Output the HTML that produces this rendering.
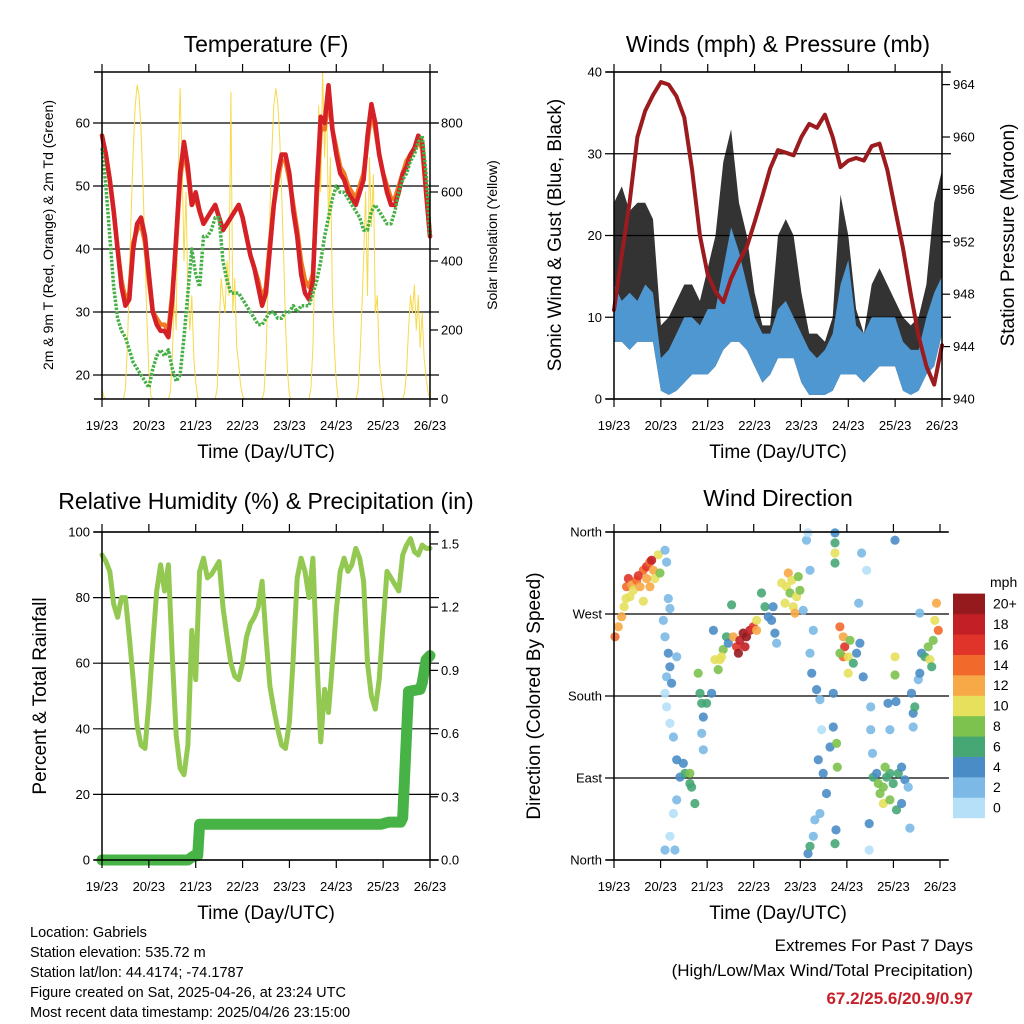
<!DOCTYPE html>
<html><head><meta charset="utf-8"><style>
html,body{margin:0;padding:0;background:#fff;}
svg{display:block;font-family:"Liberation Sans",sans-serif;}
</style></head><body>
<svg id="root" xmlns="http://www.w3.org/2000/svg" width="1024" height="1024" viewBox="0 0 1024 1024">
<rect width="1024" height="1024" fill="#fff"/>
<g font-size="23" text-anchor="middle" fill="#000">
<text x="266" y="52">Temperature (F)</text>
<text x="778" y="52">Winds (mph) &amp; Pressure (mb)</text>
<text x="266" y="509">Relative Humidity (%) &amp; Precipitation (in)</text>
<text x="778" y="506">Wind Direction</text>
</g>
<g font-size="19" text-anchor="middle">
<text x="266" y="458">Time (Day/UTC)</text>
<text x="778" y="458">Time (Day/UTC)</text>
<text x="266" y="919">Time (Day/UTC)</text>
<text x="778" y="919">Time (Day/UTC)</text>
<text transform="translate(561,235) rotate(-90)">Sonic Wind &amp; Gust (Blue, Black)</text>
<text transform="translate(1014,235) rotate(-90)">Station Pressure (Maroon)</text>
<text transform="translate(46,696) rotate(-90)">Percent &amp; Total Rainfall</text>
<text transform="translate(540,696) rotate(-90)">Direction (Colored By Speed)</text>
</g>
<g font-size="14" text-anchor="middle">
<text transform="translate(53,235) rotate(-90)">2m &amp; 9m T (Red, Orange) &amp; 2m Td (Green)</text>
<text transform="translate(497,235) rotate(-90)">Solar Insolation (Yellow)</text>
</g>
<g font-size="14.5">
<text x="30" y="937">Location: Gabriels</text>
<text x="30" y="957">Station elevation: 535.72 m</text>
<text x="30" y="977">Station lat/lon: 44.4174; -74.1787</text>
<text x="30" y="997">Figure created on Sat, 2025-04-26, at 23:24 UTC</text>
<text x="30" y="1017">Most recent data timestamp: 2025/04/26 23:15:00</text>
</g>
<g font-size="17" text-anchor="end">
<text x="973" y="951">Extremes For Past 7 Days</text>
<text x="973" y="976">(High/Low/Max Wind/Total Precipitation)</text>
<text x="973" y="1004" fill="#c8202a" font-weight="bold">67.2/25.6/20.9/0.97</text>
</g>
</svg>
<script>
// ---------- data ----------
const dayLabels = ["19/23","20/23","21/23","22/23","23/23","24/23","25/23","26/23"];
// temperature, 2-hourly from hour 0
const tempRed = [58,55,51,46,40,34,31,32,40,44,45,42,36,30,28,27,27,26,32,42,52,57,53,47,49,46,44,45,46,47,45,43,44,45,46,47,45,42,39,37,34,31,33,40,47,52,55,55,52,46,42,36,33,32,35,50,61,60,66,59,55,52,51,49,48,47,49,51,58,63,60,55,52,49,47,47,49,52,53,55,56,58,57,49,42];
const tempOrange = [58,55,51,46,40,35,32,33,41,43,44,41,35,30,29,28,28,27,33,41,51,56,52,47,48,46,44,45,46,47,45,43,44,45,46,47,45,42,39,37,35,32,34,41,47,51,54,54,51,47,43,38,35,34,36,48,59,59,64,59,56,53,52,50,49,48,50,52,57,62,59,55,52,50,48,48,50,52,54,55,56,57,56,49,42];
const tempDew = [56,50,42,34,29,27,26,24,22,21,20,19,18,21,23,24,23,24,21,19,20,26,33,40,36,34,42,42,43,45,45,38,35,33,33,33,32,31,30,29,28,28,29,30,30,29,29,30,30,31,30,31,31,31,33,35,38,42,45,48,50,49,49,48,47,46,45,43,43,46,47,46,45,44,44,46,49,51,52,54,55,57,58,52,42];
// solar, hourly from hour 0
const solar = [30,5,0,0,0,0,0,0,0,0,0,0,30,150,350,550,720,850,910,880,780,620,430,230,
80,10,0,0,0,0,0,0,0,0,0,20,120,300,200,650,900,700,400,600,300,200,300,120,
50,5,0,0,0,0,0,0,0,0,0,30,200,350,300,250,400,300,890,250,350,150,100,40,
10,0,0,0,0,0,0,0,0,0,0,20,120,330,540,720,850,900,860,760,600,420,220,80,
10,0,0,0,0,0,0,0,0,0,0,30,150,380,500,850,600,950,700,880,500,700,300,150,
50,0,0,0,0,0,0,0,0,0,0,20,100,250,400,600,300,700,500,650,250,300,120,40,
5,0,0,0,0,0,0,0,0,0,0,20,80,200,300,250,330,200,300,150,250,120,60,20,0];
// winds / pressure, 4-hourly from hour 0
const pressure = [946.8,951,955,960,962,963.2,964.2,964,963.1,961.5,957.5,952.5,949.5,948.2,947.4,949.2,950.5,951.6,953.5,955.5,957.6,959,958.8,958.6,960,961,960.7,961.7,960,957.7,958.2,958.4,958.2,959.3,959.5,957.5,954.5,951.5,948,944.8,942.5,941.1,944.1];
const windLo = [7,7,6,7,7,7,1,0.5,1,2,3,3,3,4,6,7,7,6,4,2,3,5,5,5,2,0.5,0.5,0.5,1,3,3,3,2,3,4,4,4,1,0.5,1,3,4,8];
const windHi = [14,12,13,12,14,13,5,6,8,10,10,9,11,11,16,21,18,14,10,8,8,11,12,10,8,6,5,6,8,14,17,9,8,10,10,10,10,7,6,6,10,13,15];
const gustHi = [24,26,23,24,24,22,9,10,12,14,14,12,16,20,29,33,24,20,13,9,9,20,22,20,13,8,8,7,10,25,20,11,8,14,16,14,12,10,9,10,14,24,28];
// RH, 2-hourly
const rh = [93,91,88,78,74,80,80,68,55,41,35,34,48,66,82,90,82,90,62,38,28,26,35,70,55,88,92,86,87,89,91,77,68,60,56,55,60,68,72,74,77,85,68,53,46,40,35,34,42,62,86,92,88,80,92,62,36,52,45,60,76,88,92,88,90,95,92,85,60,50,46,55,72,88,86,84,82,93,96,98,94,93,96,95,95];
const precipHour = [0,44,47,49,50,143,147,153,154,157,163,164,166,168];
const precipVal = [0,0,0.02,0.02,0.17,0.17,0.18,0.18,0.2,0.8,0.81,0.84,0.95,0.97];
// wind direction scatter
const wdHour = [0.5,2.2,3.9,5.2,6.2,6.5,7.4,9.1,10,11.7,13.4,15.1,16.8,18.5,20.3,21.1,22.8,23.7,18.5,15.1,8.2,19.4,12.5,16.8,
26.3,27.1,28,28.8,25.4,26.3,28,28.8,27.1,26.3,29.7,32.3,27.1,28.8,30.6,32.3,34,36.6,39.1,40,35.7,32.3,30.6,26.3,31.4,28.8,41.7,39.1,
43.4,44.3,45.2,47.7,46,45.2,46,50.3,51.2,52,54.6,56.3,58,58.9,53.7,55.4,
61.5,63.2,64.9,66.6,68.3,70,71.8,64.1,67.5,73.5,60.6,73.5,
76,77.8,79.5,81.2,82.9,82,83.8,86.4,88.9,90.7,92.4,94.1,95.8,89.8,88.1,91.6,95,93.3,
97.5,99.2,100,101,102.7,101,101.9,104.4,106.1,107,105.3,107.8,109.5,106.1,102.7,100,101,103.5,111.3,113,113,114.7,115.1,114.4,113.9,113.9,113.9,113.9,113.9,
116.4,118.1,118.9,118.1,120.7,116.4,121.6,120.7,123.3,125,126.7,128.4,127.6,130.2,126.1,132.3,132.3,133.2,131.5,131.5,
133.6,136.2,138.8,140.5,142.2,143.9,146.5,148.2,149.9,151.6,138.8,137.1,142.2,145.6,139.7,135.4,141.2,142.2,144.8,144.8,145.3,144.8,148.2,152.5,
153.3,154.2,155,154.2,156.8,157.6,158.5,160.2,161.9,162.8,164.5,163.7,157.6,166.2,167.1,165.3];
const wdDir = [245,256,267,278,287,300,309,302,296,307,300,318,322,327,318,309,335,315,300,284,289,329,312,309,
340,327,287,276,263,245,227,212,201,183,194,223,168,150,135,110,91,95,95,80,106,66,51,11,11,26,62,84,
205,183,172,172,157,139,121,183,252,220,220,231,245,238,209,223,
245,234,241,249,245,252,256,227,234,252,280,263,
293,278,267,263,249,278,238,304,300,293,278,289,296,315,282,307,311,271,
274,351,359,318,252,227,205,187,176,143,110,95,73,51,26,7,15,44,124,146,183,128,102,33,18,359,348,337,326,
256,245,234,223,223,227,241,205,216,227,238,201,337,318,282,168,143,117,40,11,
91,84,80,91,95,84,95,102,88,80,62,73,66,55,102,95,172,143,223,203,174,351,62,35,
183,161,168,146,198,205,227,223,234,220,241,212,271,282,252,263];
const wdSpeed = [14,12,12,10,10,14,16,12,10,14,12,14,16,14,12,10,10,8,12,10,10,18,16,12,
2,2,2,2,2,2,4,4,2,0,4,2,0,0,2,4,4,6,8,6,4,2,0,2,2,0,6,6,
8,6,6,6,4,2,2,4,4,10,10,8,6,4,8,10,
12,16,18,20,20,18,16,20,18,12,6,10,
6,6,4,4,4,4,2,10,10,8,10,10,8,12,10,10,8,12,
2,2,0,2,2,2,4,4,2,0,4,4,4,2,2,4,6,2,4,4,4,8,8,4,6,4,6,10,6,
14,12,16,14,10,8,8,10,6,4,4,4,2,0,2,2,2,2,4,0,
6,8,8,6,6,6,6,4,4,2,10,8,8,6,8,4,4,2,10,8,4,4,4,2,
4,4,6,2,2,4,4,6,8,10,8,6,2,12,14,10];
const speedLabels = ["0","2","4","6","8","10","12","14","16","18","20+"];
const speedColors = ["#b6e0f7","#7cb9e6","#4a8dc6","#46a775","#7dc24e","#e6e05c","#f7a847","#f26a2b","#e0342a","#c21f26","#951a1d"];

// ---------- helpers ----------
const NS="http://www.w3.org/2000/svg";
const root=document.getElementById('root');
function mk(tag,attrs,parent){const e=document.createElementNS(NS,tag);for(const k in attrs)e.setAttribute(k,attrs[k]);(parent||root).appendChild(e);return e;}
function txt(x,y,s,anchor,size,parent){const t=mk('text',{x:x,y:y,'text-anchor':anchor,'font-size':size},parent);t.textContent=s;return t;}

function xScale(x0,x1){return h=>x0+h*(x1-x0)/168;}
const P1={x0:102,x1:430,y0:72,y1:399};
const P2={x0:614,x1:942,y0:72,y1:399};
const P3={x0:102,x1:430,y0:532,y1:860};
const P4={x0:614,x1:940,y0:532,y1:860};
const tempY=t=>375-(t-20)*6.3;
const solarY=s=>399-s*0.345;
const windY=w=>399-w*8.175;
const presY=p=>399-(p-940)*13.1;
const rhY=r=>860-r*3.28;
const prY=v=>860-v*210.7;
const dirY=d=>860-d*328/360;

function frame(P,name,top,right){
  const g=mk('g',{});
  
  
  const xs=xScale(P.x0,P.x1);
  const l=mk('line',{x1:P.x0,y1:P.y0,x2:P.x0,y2:P.y1,stroke:'#000','stroke-width':1.5},g);
  
  
  const b=mk('line',{x1:P.x0-8,y1:P.y1,x2:P.x1+8,y2:P.y1,stroke:'#000','stroke-width':1.5},g);
  
  
  if(top){const t=mk('line',{x1:P.x0-8,y1:P.y0,x2:P.x1+8,y2:P.y0,stroke:'#000','stroke-width':1.5},g);
    
    }
  if(right){const r=mk('line',{x1:P.x1,y1:P.y0,x2:P.x1,y2:P.y1,stroke:'#000','stroke-width':1.5},g);
    
    }
  dayLabels.forEach((d,i)=>{
    const x=xs(i*24);
    mk('line',{x1:x,y1:P.y1,x2:x,y2:P.y1+8,stroke:'#000','stroke-width':1.2},g);
    if(top)mk('line',{x1:x,y1:P.y0,x2:x,y2:P.y0-8,stroke:'#000','stroke-width':1.2},g);
    const t=txt(x,P.y1+31,d,'middle',13,g);
    
    
  });
  return g;
}
function grid(P,vals,yf,labels,name){
  vals.forEach((v,i)=>{
    const y=yf(v);
    const ln=mk('line',{x1:P.x0-9,y1:y,x2:P.x1+9,y2:y,stroke:'#000','stroke-width':1.2});
    
    
    const t=txt(P.x0-12,y+4.5,labels[i],'end',13);
    
    
  });
}
function rightTicks(P,vals,yf,labels,name){
  vals.forEach((v,i)=>{
    const y=yf(v);
    mk('line',{x1:P.x1,y1:y,x2:P.x1+8,y2:y,stroke:'#000','stroke-width':1.2});
    const t=txt(P.x1+11,y+4.5,labels[i],'start',13);
    
    
  });
}
function line(arr,step,xs,yf,color,w,name,extra){
  const pts=arr.map((v,i)=>xs(i*step).toFixed(1)+','+yf(v).toFixed(1)).join(' ');
  const p=mk('polyline',Object.assign({points:pts,fill:'none',stroke:color,'stroke-width':w,'stroke-linejoin':'round','stroke-linecap':'round'},extra||{}));
  
  
  return p;
}
function band(lo,hi,step,xs,yf,color,name,op){
  let pts=hi.map((v,i)=>xs(i*step).toFixed(1)+','+yf(v).toFixed(1));
  for(let i=lo.length-1;i>=0;i--)pts.push(xs(i*step).toFixed(1)+','+yf(lo[i]).toFixed(1));
  const p=mk('polygon',{points:pts.join(' '),fill:color,'fill-opacity':op});
  
  
}

// ---------- panel 1: temperature ----------
const xs1=xScale(P1.x0,P1.x1);
grid(P1,[20,30,40,50,60],tempY,["20","30","40","50","60"],'temp');
rightTicks(P1,[0,200,400,600,800],solarY,["0","200","400","600","800"],'solar');
line(solar,1,xs1,solarY,'#f7d94a',1,'solar-insolation-line');
line(tempOrange,2,xs1,tempY,'#f07a22',4.5,'temp-9m-line');
line(tempRed,2,xs1,tempY,'#d42026',4.5,'temp-2m-line');
line(tempDew,2,xs1,tempY,'#45b045',3.5,'dewpoint-line',{'stroke-dasharray':'2.5 1.5','stroke-linecap':'butt'});
frame(P1,'temp',true,true);

// ---------- panel 2: winds ----------
const xs2=xScale(P2.x0,P2.x1);
grid(P2,[0,10,20,30,40],windY,["0","10","20","30","40"],'wind');
rightTicks(P2,[940,944,948,952,956,960,964],presY,["940","944","948","952","956","960","964"],'pressure');
band(windLo,gustHi,4,xs2,windY,'#000','gust-band',0.8);
band(windLo,windHi,4,xs2,windY,'#4f97d0','wind-band',1);
line(pressure,4,xs2,presY,'#9b1b1e',4,'pressure-line');
frame(P2,'wind',true,true);

// ---------- panel 3: RH & precip ----------
const xs3=xScale(P3.x0,P3.x1);
grid(P3,[0,20,40,60,80,100],rhY,["0","20","40","60","80","100"],'rh');
rightTicks(P3,[0,0.3,0.6,0.9,1.2,1.5],prY,["0.0","0.3","0.6","0.9","1.2","1.5"],'precip');
line(rh,2,xs3,rhY,'#93c952',5,'rh-line');
{
  const pts=precipHour.map((h,i)=>xs3(h).toFixed(1)+','+prY(precipVal[i]).toFixed(1)).join(' ');
  const p=mk('polyline',{points:pts,fill:'none',stroke:'#47b347','stroke-width':11,'stroke-linejoin':'round','stroke-linecap':'round'});
  
  
}
frame(P3,'rh',true,true);

// ---------- panel 4: wind direction ----------
const xs4=xScale(P4.x0,P4.x1);
grid(P4,[0,90,180,270,360],dirY,["North","East","South","West","North"],'dir');
wdHour.forEach((h,i)=>{
  const s=wdSpeed[i];
  const idx=Math.min(10,Math.round(s/2));
  const c=mk('circle',{cx:xs4(h).toFixed(1),cy:dirY(wdDir[i]).toFixed(1),r:4.6,fill:speedColors[idx],'fill-opacity':0.9});
  
  
});
frame(P4,'dir',true,false);

// colorbar
const cb=mk('g',{});


const mt=txt(990,587,'mph','start',14,cb);


speedLabels.forEach((lab,i)=>{
  const y=818-(i+1)*20.4;
  const r=mk('rect',{x:953,y:y.toFixed(1),width:32,height:20.6,fill:speedColors[i]},cb);
  
  
  const t=txt(993,y+15,lab,'start',14,cb);
  
  
});
</script>
</body></html>
